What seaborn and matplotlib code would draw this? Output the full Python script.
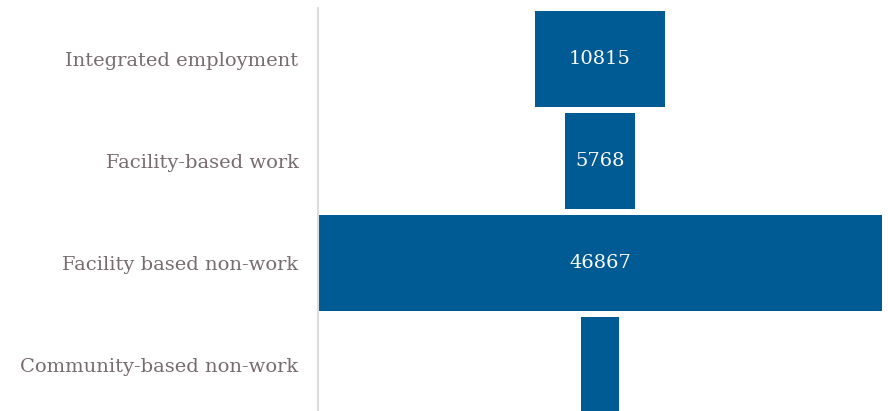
import numpy as np
import pandas as pd
import seaborn as sns
import matplotlib
matplotlib.use("Agg")
import matplotlib.pyplot as plt

categories = ["Integrated employment", "Facility-based work",
              "Facility based non-work", "Community-based non-work"]
values = [10815, 5768, 46867, 3100]

bar_color = "#005a94"
label_color = "#776b6f"

sns.set_style("white")
plt.rcParams['font.family'] = ['DejaVu Serif']

df = pd.DataFrame({"category": categories, "value": values})
df["half"] = df["value"] / 2
df["neg_half"] = -df["value"] / 2

fig = plt.figure(figsize=(8.88, 4.11), dpi=100)
ax = fig.add_axes([318 / 888, -5 / 411, 564 / 888, 408 / 411])

# funnel bars: draw each half around zero
sns.barplot(data=df, x="half", y="category", color=bar_color, width=0.94,
            saturation=1, linewidth=0, ax=ax, orient="h")
sns.barplot(data=df, x="neg_half", y="category", color=bar_color, width=0.94,
            saturation=1, linewidth=0, ax=ax, orient="h")

m = max(values) / 2
ax.set_xlim(-m, m)
ax.set_ylim(3.5, -0.5)

for i, v in enumerate(values):
    if v > 5000:
        ax.text(0, i, str(v), ha="center", va="center", color="white", fontsize=14)

ax.set_xlabel("")
ax.set_ylabel("")
ax.set_xticks([])
ax.tick_params(axis="y", length=0, pad=14, labelsize=14, labelcolor=label_color)
for s in ["top", "right", "bottom"]:
    ax.spines[s].set_visible(False)
ax.spines["left"].set_color("#dcdcdc")
ax.spines["left"].set_linewidth(1.5)

fig.savefig("out.png", dpi=100)
